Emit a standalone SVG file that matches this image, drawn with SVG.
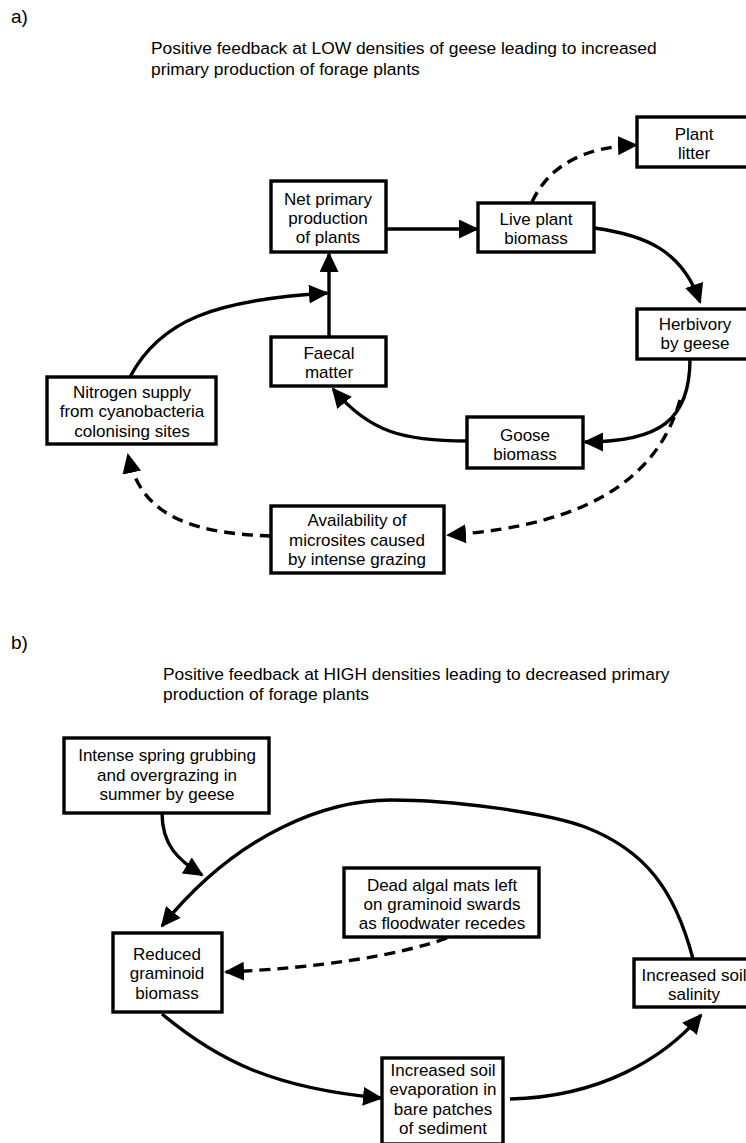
<svg xmlns="http://www.w3.org/2000/svg" width="746" height="1143" viewBox="0 0 746 1143">
<style>
text{font-family:"Liberation Sans",Arial,sans-serif;font-size:17px;fill:#000}
.t{font-size:17.4px}
.lab{font-size:19px}
.c{text-anchor:middle}
.box{fill:#fff;stroke:#000;stroke-width:3.4}
.ln{fill:none;stroke:#000;stroke-width:3.4;marker-end:url(#arr)}
.dash{stroke-dasharray:11 7}
</style>
<defs>
<marker id="arr" markerUnits="userSpaceOnUse" markerWidth="20" markerHeight="19" refX="18" refY="9.5" orient="auto">
<path d="M0,0 L20,9.5 L0,19 z" fill="#000"/>
</marker>
</defs>
<rect width="746" height="1143" fill="#fff"/>
<text class="lab" x="11" y="23">a)</text>
<text class="t" x="151" y="54">Positive feedback at LOW densities of geese leading to increased</text>
<text class="t" x="151" y="75">primary production of forage plants</text>
<text class="lab" x="11" y="649">b)</text>
<text class="t" x="163" y="680">Positive feedback at HIGH densities leading to decreased primary</text>
<text class="t" x="163" y="700">production of forage plants</text>
<g id="connectors">
<path class="ln" d="M386,229 L477,229"/>
<path class="ln dash" d="M532,202 Q557,148 636,145"/>
<path class="ln" d="M594,228 C645,235 682,250 700,302"/>
<path class="ln" d="M690,359 C690,420 660,442 585,442"/>
<path class="ln dash" d="M680,400 C660,470 600,525 448,535"/>
<path class="ln dash" d="M271,536 C180,533 140,510 128,455"/>
<path class="ln" d="M130,377 C160,320 215,300 327,293"/>
<path class="ln" d="M329,337 L329,254"/>
<path class="ln" d="M467,441 C405,441 370,433 333,389"/>
<path class="ln" d="M162,813 C162,845 178,860 202,875"/>
<path class="ln" d="M693,959 C675,890 645,850 585,827 C545,812 450,800 391,800 C330,800 240,830 162,926"/>
<path class="ln dash" d="M447,938 C400,955 320,968 226,972"/>
<path class="ln" d="M162,1014 C215,1058 270,1088 381,1098"/>
<path class="ln" d="M510,1099 C600,1097 665,1058 701,1015"/>
</g>
<g id="plant-litter"><rect class="box" x="637" y="117" width="116" height="50"/><text class="c" x="694" y="140">Plant</text><text class="c" x="694" y="159">litter</text></g>
<g id="npp"><rect class="box" x="271" y="181" width="115" height="71"/><text class="c" x="328" y="205">Net primary</text><text class="c" x="328" y="224">production</text><text class="c" x="328" y="243">of plants</text></g>
<g id="live-plant"><rect class="box" x="478" y="203" width="116" height="49"/><text class="c" x="536" y="225">Live plant</text><text class="c" x="536" y="244">biomass</text></g>
<g id="herbivory"><rect class="box" x="637" y="309" width="116" height="50"/><text class="c" x="695" y="330">Herbivory</text><text class="c" x="695" y="349">by geese</text></g>
<g id="goose"><rect class="box" x="467" y="417" width="116" height="51"/><text class="c" x="525" y="441">Goose</text><text class="c" x="525" y="460">biomass</text></g>
<g id="faecal"><rect class="box" x="271" y="337" width="115" height="49"/><text class="c" x="329" y="359">Faecal</text><text class="c" x="329" y="378">matter</text></g>
<g id="nitrogen"><rect class="box" x="47" y="377" width="169" height="67"/><text class="c" x="132" y="398">Nitrogen supply</text><text class="c" x="132" y="417">from cyanobacteria</text><text class="c" x="132" y="437">colonising sites</text></g>
<g id="availability"><rect class="box" x="271" y="506" width="173" height="67"/><text class="c" x="357" y="526">Availability of</text><text class="c" x="357" y="546">microsites caused</text><text class="c" x="357" y="565">by intense grazing</text></g>
<g id="intense"><rect class="box" x="64" y="738" width="205" height="75"/><text class="c" x="167" y="761">Intense spring grubbing</text><text class="c" x="167" y="781">and overgrazing in</text><text class="c" x="167" y="800">summer by geese</text></g>
<g id="reduced"><rect class="box" x="113" y="933" width="109" height="79"/><text class="c" x="167" y="960">Reduced</text><text class="c" x="167" y="979">graminoid</text><text class="c" x="167" y="999">biomass</text></g>
<g id="dead-algal"><rect class="box" x="344" y="868" width="195" height="69"/><text class="c" x="442" y="891">Dead algal mats left</text><text class="c" x="442" y="910">on graminoid swards</text><text class="c" x="442" y="929">as floodwater recedes</text></g>
<g id="salinity"><rect class="box" x="634" y="959" width="120" height="48"/><text class="c" x="694" y="981">Increased soil</text><text class="c" x="694" y="1000">salinity</text></g>
<g id="evaporation"><rect class="box" x="382" y="1058" width="121" height="86"/><text class="c" x="443" y="1076">Increased soil</text><text class="c" x="443" y="1095">evaporation in</text><text class="c" x="443" y="1115">bare patches</text><text class="c" x="443" y="1134">of sediment</text></g>
</svg>
